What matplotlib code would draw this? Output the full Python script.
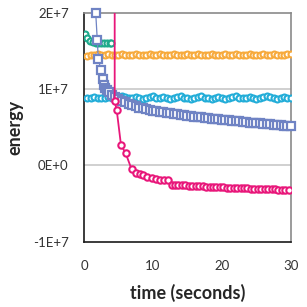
import numpy as np
import matplotlib
matplotlib.use("Agg")
import matplotlib.pyplot as plt

# steady series sampled every 0.5 s
t_steady = [0.5, 1.0, 1.5, 2.0, 2.5, 3.0, 3.5, 4.0, 4.5, 5.0, 5.5, 6.0, 6.5, 7.0, 7.5,
            8.0, 8.5, 9.0, 9.5, 10.0, 10.5, 11.0, 11.5, 12.0, 12.5, 13.0, 13.5, 14.0,
            14.5, 15.0, 15.5, 16.0, 16.5, 17.0, 17.5, 18.0, 18.5, 19.0, 19.5, 20.0,
            20.5, 21.0, 21.5, 22.0, 22.5, 23.0, 23.5, 24.0, 24.5, 25.0, 25.5, 26.0,
            26.5, 27.0, 27.5, 28.0, 28.5, 29.0, 29.5, 30.0]
orange = [1.44, 1.45, 1.45, 1.46, 1.45, 1.45, 1.46, 1.45, 1.45, 1.45, 1.46, 1.45, 1.45,
          1.45, 1.46, 1.45, 1.45, 1.45, 1.46, 1.45, 1.45, 1.46, 1.45, 1.45, 1.45, 1.46,
          1.45, 1.45, 1.45, 1.46, 1.45, 1.45, 1.46, 1.45, 1.45, 1.45, 1.46, 1.45, 1.45,
          1.45, 1.46, 1.45, 1.45, 1.46, 1.45, 1.45, 1.45, 1.46, 1.45, 1.45, 1.45, 1.46,
          1.45, 1.45, 1.46, 1.45, 1.45, 1.45, 1.46, 1.46]
cyan = [0.89, 0.88, 0.90, 0.89, 0.88, 0.89, 0.90, 0.88, 0.87, 0.89, 0.91, 0.90, 0.88,
        0.89, 0.90, 0.88, 0.87, 0.89, 0.90, 0.91, 0.89, 0.88, 0.90, 0.89, 0.87, 0.88,
        0.90, 0.91, 0.89, 0.88, 0.87, 0.89, 0.90, 0.91, 0.89, 0.88, 0.87, 0.89, 0.90,
        0.88, 0.87, 0.88, 0.90, 0.91, 0.89, 0.88, 0.89, 0.90, 0.88, 0.87, 0.89, 0.90,
        0.91, 0.90, 0.88, 0.87, 0.89, 0.90, 0.89, 0.89]

t_teal = [0.15, 0.5, 0.9, 1.3, 1.7, 2.1, 2.5, 2.9, 3.3, 3.7, 3.95]
teal = [1.72, 1.67, 1.63, 1.615, 1.61, 1.605, 1.61, 1.60, 1.61, 1.60, 1.60]

t_blue = [1.7, 1.93, 2.07, 2.46, 2.7, 2.9, 3.1, 3.3, 3.6, 4.0, 4.5, 5.0, 5.5, 6.0, 6.5,
          7.0, 7.5, 8.0, 8.5, 9.0, 9.5, 10.0, 10.5, 11.0, 11.5, 12.0, 12.5, 13.0, 13.5,
          14.0, 14.5, 15.0, 15.5, 16.0, 16.5, 17.0, 17.5, 18.0, 18.5, 19.0, 19.5, 20.0,
          20.5, 21.0, 21.5, 22.0, 22.5, 23.0, 23.5, 24.0, 24.5, 25.0, 25.5, 26.0, 26.5,
          27.0, 27.5, 28.0, 28.5, 29.0, 29.5, 30.0]
blue = [2.0, 1.64, 1.40, 1.25, 1.14, 1.06, 1.02, 0.99, 0.96, 0.93, 0.90, 0.87, 0.85,
        0.83, 0.81, 0.79, 0.775, 0.76, 0.75, 0.74, 0.73, 0.72, 0.712, 0.705, 0.698,
        0.69, 0.683, 0.676, 0.67, 0.664, 0.658, 0.652, 0.646, 0.641, 0.636, 0.63,
        0.625, 0.62, 0.615, 0.61, 0.605, 0.60, 0.595, 0.59, 0.586, 0.581, 0.577, 0.572,
        0.568, 0.563, 0.559, 0.555, 0.551, 0.546, 0.542, 0.538, 0.534, 0.53, 0.526,
        0.522, 0.518, 0.514]

t_pink = [4.45, 4.45, 4.74, 5.36, 6.04, 6.9, 7.6, 8.1, 8.6, 9.1, 9.8, 10.4, 11.0, 11.6,
          12.2, 12.7, 13.2, 13.7, 14.2, 14.7, 15.2, 15.7, 16.2, 16.7, 17.2, 17.7, 18.2,
          18.7, 19.2, 19.7, 20.2, 20.7, 21.2, 21.7, 22.2, 22.7, 23.2, 23.7, 24.2, 24.7,
          25.2, 25.7, 26.2, 26.7, 27.2, 27.7, 28.2, 28.7, 29.2, 29.7]
pink = [4.0, 0.84, 0.73, 0.27, 0.16, -0.05, -0.10, -0.11, -0.12, -0.15, -0.17, -0.18,
        -0.19, -0.19, -0.19, -0.25, -0.255, -0.258, -0.26, -0.262, -0.265, -0.268,
        -0.27, -0.272, -0.275, -0.277, -0.28, -0.282, -0.284, -0.286, -0.288, -0.29,
        -0.292, -0.294, -0.296, -0.298, -0.30, -0.302, -0.304, -0.305, -0.307, -0.308,
        -0.31, -0.311, -0.313, -0.314, -0.316, -0.317, -0.318, -0.32]

x_ticks = [0, 10, 20, 30]
y_ticks = [-1e7, 0, 1e7, 2e7]
y_ticklabels = ["-1E+7", "0E+0", "1E+7", "2E+7"]

plt.rcParams["font.family"] = ["Lato", "DejaVu Sans"]

fig = plt.figure(figsize=(3.07, 3.07), dpi=100)
ax = fig.add_axes([0.2736, 0.2127, 0.674, 0.745])

E = 1e7
circ = dict(marker="o", markersize=4.3, markerfacecolor="white", markeredgewidth=1.5,
            linewidth=0.8)
ax.plot(t_steady, np.array(orange) * E, color="#F7AA3C", zorder=3, **circ)
ax.plot(t_steady, np.array(cyan) * E, color="#22ADD8", zorder=3, **circ)
ax.plot(t_teal, np.array(teal) * E, color="#1DAA8C", zorder=3, **circ)
ax.plot(t_blue, np.array(blue) * E, color="#6F83C4", marker="s", markersize=5.4,
        markerfacecolor="white", markeredgewidth=1.6, linewidth=0.9, zorder=4,
        clip_on=False)
ax.plot(t_pink, np.array(pink) * E, color="#E8177A", zorder=5,
        **dict(circ, markersize=4.6, linewidth=1.3))

ax.set_xlim(0, 30)
ax.set_ylim(-1e7, 2e7)
ax.set_xticks(x_ticks)
ax.set_yticks(y_ticks)
ax.set_yticklabels(y_ticklabels)
ax.tick_params(length=0, labelsize=9.5, labelcolor="#333333")
ax.tick_params(axis="x", pad=13)
ax.tick_params(axis="y", pad=11)

for val in [0, 1e7]:
    ax.axhline(val, color="#c8c8c8", linewidth=1.2, zorder=1)

ax.spines["left"].set_color("#1a1a1a")
ax.spines["bottom"].set_color("#1a1a1a")
ax.spines["top"].set_color("#8a8a8a")
ax.spines["right"].set_color("#8a8a8a")
for s in ax.spines.values():
    s.set_linewidth(1.2)

ax.set_xlabel("time (seconds)", fontsize=13, fontweight="bold", color="#262626")
ax.set_ylabel("energy", fontsize=13, fontweight="bold", color="#262626")
ax.xaxis.label.set_va("center")
ax.yaxis.label.set_va("center")
ax.xaxis.set_label_coords(0.5, -0.224)
ax.yaxis.set_label_coords(-0.333, 0.5)

fig.savefig("out.png", dpi=100)
